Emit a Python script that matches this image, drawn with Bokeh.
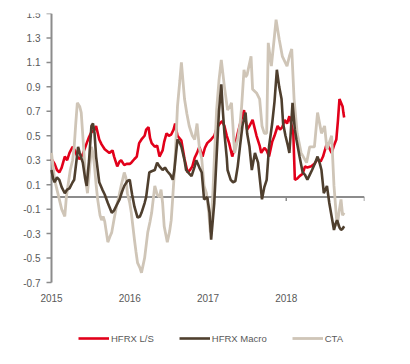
from bokeh.plotting import figure
from bokeh.models import Legend, LegendItem
from bokeh.core.properties import value
from bokeh.embed import file_html
from bokeh.resources import INLINE

# ---- data (decimal years) ----
ls_t = [2015.00, 2015.04, 2015.07, 2015.10, 2015.13, 2015.17, 2015.20, 2015.23, 2015.27, 2015.30,
        2015.33, 2015.36, 2015.40, 2015.45, 2015.48, 2015.51, 2015.55, 2015.57, 2015.61, 2015.64,
        2015.68, 2015.72, 2015.74, 2015.78, 2015.80, 2015.84, 2015.87, 2015.89, 2015.93, 2015.96,
        2016.00, 2016.02, 2016.06, 2016.09, 2016.12, 2016.15, 2016.19, 2016.21, 2016.24, 2016.26,
        2016.28, 2016.32, 2016.35, 2016.38, 2016.42, 2016.44, 2016.47, 2016.50, 2016.53, 2016.56,
        2016.58, 2016.61, 2016.66, 2016.70, 2016.74, 2016.77, 2016.80, 2016.83, 2016.86, 2016.89,
        2016.93, 2016.96, 2016.99, 2017.04, 2017.08, 2017.11, 2017.15, 2017.18, 2017.21, 2017.24,
        2017.27, 2017.31, 2017.34, 2017.38, 2017.42, 2017.46, 2017.50, 2017.53, 2017.57, 2017.62,
        2017.66, 2017.68, 2017.72, 2017.75, 2017.78, 2017.82, 2017.85, 2017.89, 2017.92, 2017.95,
        2017.98, 2018.01, 2018.04, 2018.07, 2018.09, 2018.11, 2018.14, 2018.17, 2018.21, 2018.24,
        2018.27, 2018.32, 2018.36, 2018.40, 2018.44, 2018.47, 2018.52, 2018.55, 2018.58, 2018.61,
        2018.64, 2018.66, 2018.68, 2018.70, 2018.72, 2018.73, 2018.74]
ls_v = [0.31, 0.27, 0.22, 0.20, 0.24, 0.33, 0.30, 0.36, 0.41, 0.38,
        0.33, 0.31, 0.35, 0.44, 0.49, 0.53, 0.55, 0.58, 0.47, 0.43,
        0.39, 0.37, 0.36, 0.38, 0.33, 0.25, 0.29, 0.30, 0.26, 0.27,
        0.27, 0.28, 0.31, 0.33, 0.44, 0.47, 0.50, 0.55, 0.57, 0.48,
        0.44, 0.41, 0.42, 0.33, 0.38, 0.45, 0.52, 0.50, 0.51, 0.55,
        0.60, 0.50, 0.46, 0.31, 0.20, 0.22, 0.25, 0.32, 0.36, 0.41,
        0.33, 0.40, 0.44, 0.47, 0.50, 0.56, 0.60, 0.62, 0.58, 0.50,
        0.44, 0.33, 0.40, 0.52, 0.62, 0.71, 0.55, 0.58, 0.63, 0.50,
        0.42, 0.36, 0.40, 0.38, 0.33, 0.45, 0.50, 0.58, 0.55, 0.57,
        0.63, 0.60, 0.66, 0.58, 0.52, 0.14, 0.15, 0.17, 0.19, 0.25,
        0.24, 0.25, 0.27, 0.31, 0.29, 0.33, 0.44, 0.40, 0.36, 0.42,
        0.47, 0.62, 0.80, 0.77, 0.74, 0.69, 0.65]

macro_t = [2015.00, 2015.02, 2015.04, 2015.07, 2015.10, 2015.13, 2015.17, 2015.20, 2015.23, 2015.27,
           2015.29, 2015.32, 2015.34, 2015.36, 2015.40, 2015.43, 2015.45, 2015.48, 2015.51, 2015.53,
           2015.55, 2015.57, 2015.61, 2015.65, 2015.68, 2015.72, 2015.77, 2015.80, 2015.83, 2015.87,
           2015.90, 2015.93, 2015.97, 2016.00, 2016.03, 2016.06, 2016.10, 2016.13, 2016.15, 2016.19,
           2016.21, 2016.25, 2016.28, 2016.32, 2016.35, 2016.38, 2016.42, 2016.45, 2016.48, 2016.52,
           2016.55, 2016.57, 2016.61, 2016.64, 2016.66, 2016.70, 2016.72, 2016.76, 2016.79, 2016.83,
           2016.85, 2016.89, 2016.92, 2016.95, 2016.99, 2017.02, 2017.04, 2017.06, 2017.08, 2017.11,
           2017.14, 2017.17, 2017.19, 2017.21, 2017.24, 2017.25, 2017.29, 2017.32, 2017.35, 2017.38,
           2017.41, 2017.44, 2017.48, 2017.50, 2017.53, 2017.56, 2017.60, 2017.64, 2017.67, 2017.69,
           2017.72, 2017.75, 2017.78, 2017.82, 2017.85, 2017.88, 2017.91, 2017.94, 2017.96, 2017.99,
           2018.02, 2018.04, 2018.06, 2018.08, 2018.11, 2018.13, 2018.17, 2018.21, 2018.24, 2018.27,
           2018.30, 2018.33, 2018.37, 2018.40, 2018.43, 2018.45, 2018.48, 2018.52, 2018.55, 2018.58,
           2018.61, 2018.63, 2018.65, 2018.68, 2018.70, 2018.72, 2018.74]
macro_v = [0.22, 0.15, 0.12, 0.16, 0.14, 0.08, 0.03, 0.06, 0.07, 0.12,
           0.14, 0.30, 0.41, 0.36, 0.28, 0.15, 0.09, 0.30, 0.58, 0.60,
           0.52, 0.33, 0.12, 0.06, 0.02, -0.05, -0.13, -0.11, -0.07, -0.02,
           0.04, 0.09, 0.13, 0.14, 0.02, -0.08, -0.17, -0.16, -0.13, -0.05,
           0.00, 0.20, 0.21, 0.22, 0.28, 0.25, 0.22, 0.24, 0.21, 0.18,
           0.14, 0.22, 0.47, 0.44, 0.41, 0.30, 0.22, 0.19, 0.17, 0.25,
           0.30, 0.24, 0.20, -0.02, 0.00, -0.13, -0.35, -0.20, -0.05, 0.33,
           0.70, 0.92, 0.70, 0.52, 0.32, 0.22, 0.14, 0.12, 0.13, 0.25,
           0.42, 0.58, 0.69, 0.52, 0.41, 0.22, 0.36, 0.28, 0.10, -0.02,
           0.08, 0.14, 0.41, 0.60, 0.78, 1.04, 0.90, 0.80, 0.60, 0.50,
           0.42, 0.36, 0.55, 0.77, 0.55, 0.47, 0.33, 0.20, 0.18, 0.14,
           0.18, 0.22, 0.28, 0.33, 0.27, 0.22, 0.03, 0.09, -0.05, -0.16,
           -0.27, -0.22, -0.19, -0.25, -0.27, -0.26, -0.24]

cta_t = [2015.00, 2015.02, 2015.04, 2015.07, 2015.10, 2015.13, 2015.17, 2015.19, 2015.21, 2015.24,
         2015.27, 2015.29, 2015.31, 2015.33, 2015.36, 2015.38, 2015.40, 2015.42, 2015.44, 2015.46,
         2015.49, 2015.51, 2015.53, 2015.55, 2015.57, 2015.59, 2015.62, 2015.64, 2015.66, 2015.68,
         2015.72, 2015.75, 2015.77, 2015.80, 2015.83, 2015.86, 2015.89, 2015.93, 2015.95, 2015.97,
         2016.00, 2016.02, 2016.06, 2016.08, 2016.10, 2016.13, 2016.15, 2016.17, 2016.19, 2016.23,
         2016.26, 2016.28, 2016.30, 2016.32, 2016.35, 2016.38, 2016.40, 2016.42, 2016.44, 2016.48,
         2016.51, 2016.53, 2016.55, 2016.57, 2016.59, 2016.61, 2016.64, 2016.66, 2016.68, 2016.70,
         2016.73, 2016.76, 2016.80, 2016.83, 2016.86, 2016.89, 2016.92, 2016.95, 2016.98, 2017.01,
         2017.03, 2017.06, 2017.08, 2017.11, 2017.14, 2017.17, 2017.19, 2017.21, 2017.25, 2017.28,
         2017.30, 2017.34, 2017.38, 2017.41, 2017.43, 2017.46, 2017.48, 2017.50, 2017.55, 2017.57,
         2017.62, 2017.66, 2017.69, 2017.72, 2017.75, 2017.77, 2017.81, 2017.85, 2017.87, 2017.91,
         2017.95, 2018.01, 2018.04, 2018.07, 2018.10, 2018.14, 2018.19, 2018.26, 2018.30, 2018.36,
         2018.40, 2018.45, 2018.49, 2018.52, 2018.58, 2018.61, 2018.65, 2018.68, 2018.70, 2018.72,
         2018.74]
cta_v = [0.36, 0.25, 0.14, 0.06, -0.02, -0.10, -0.16, 0.00, 0.09, 0.22,
         0.30, 0.41, 0.60, 0.77, 0.74, 0.69, 0.50, 0.31, 0.12, 0.03,
         0.25, 0.41, 0.36, 0.25, 0.10, -0.02, -0.15, -0.19, -0.16, -0.20,
         -0.37, -0.32, -0.29, -0.18, -0.08, 0.00, 0.09, 0.20, 0.16, 0.03,
         -0.05, -0.13, -0.35, -0.45, -0.54, -0.58, -0.62, -0.56, -0.50, -0.29,
         -0.20, -0.13, -0.02, 0.09, 0.02, 0.00, 0.06, -0.05, -0.24, -0.37,
         -0.28, -0.19, 0.00, 0.20, 0.45, 0.74, 0.95, 1.10, 0.95, 0.80,
         0.68, 0.58, 0.50, 0.47, 0.60, 0.40, 0.31, 0.09, 0.03, -0.13,
         -0.29, 0.00, 0.30, 0.71, 0.95, 1.12, 1.01, 0.90, 0.71, 0.74,
         0.77, 0.36, 0.47, 0.60, 0.74, 1.04, 0.98, 1.00, 1.15, 0.88,
         0.85, 0.80, 0.58, 0.52, 0.52, 1.26, 1.07, 1.32, 1.45, 1.29,
         1.15, 1.07, 1.15, 1.21, 0.80, 0.52, 0.36, 0.28, 0.41, 0.41,
         0.69, 0.52, 0.58, 0.39, 0.50, 0.09, -0.24, -0.10, -0.02, -0.15,
         -0.13]

series_names = ["HFRX L/S", "HFRX Macro", "CTA"]
year_ticks = [2015, 2016, 2017, 2018]
zero_ticks = [2016, 2017, 2018, 2019]
y_ticks = [-0.7, -0.5, -0.3, -0.1, 0.1, 0.3, 0.5, 0.7, 0.9, 1.1, 1.3, 1.5]
Y_MIN, Y_MAX = -0.7, 1.5
X_MIN, X_MAX = 2015, 2019

RED = "#e2001a"
BROWN = "#4f3f2e"
BEIGE = "#cfc5b7"
GREY = "#8c8c8c"
TXT = "#595959"
FONT = "Liberation Sans"

# layout: the value axis spans 269px and the time axis 313px; the frame is
# extended below and to the left so the tick labels and legend sit inside it
W, H = 400, 362
TOP, BOTTOM, LEFT, RIGHT = 13, 1, 4, 36
AXIS_PX_Y = 269
AXIS_PX_X = 313
AXIS_LEFT_PAD = 47  # pixels between the frame edge and the value axis
frame_h = H - TOP - BOTTOM
y_start = Y_MAX - frame_h * (Y_MAX - Y_MIN) / AXIS_PX_Y
x_start = X_MIN - AXIS_LEFT_PAD * (X_MAX - X_MIN) / AXIS_PX_X
x_per_px = (X_MAX - X_MIN) / AXIS_PX_X
y_per_px = (Y_MAX - Y_MIN) / AXIS_PX_Y

p = figure(width=W, height=H, output_backend="svg", toolbar_location=None,
           x_range=(x_start, X_MAX), y_range=(y_start, Y_MAX),
           min_border_left=LEFT, min_border_right=RIGHT,
           min_border_top=TOP, min_border_bottom=BOTTOM)
p.outline_line_color = None
p.xgrid.visible = False
p.ygrid.visible = False
p.background_fill_color = "white"
p.xaxis.visible = False
p.yaxis.visible = False

# value axis: line (thin quad), outward ticks, labels
p.quad(left=[X_MIN - 1.0 * x_per_px], right=[X_MIN + 1.0 * x_per_px],
       bottom=[Y_MIN], top=[Y_MAX], fill_color=GREY, line_color=None)
p.quad(left=[X_MIN - 5 * x_per_px] * len(y_ticks), right=[X_MIN] * len(y_ticks),
       bottom=[t - 0.75 * y_per_px for t in y_ticks], top=[t + 0.75 * y_per_px for t in y_ticks],
       fill_color=GREY, line_color=None)
p.text(x=[X_MIN] * len(y_ticks), y=y_ticks, text=["%.1f" % t for t in y_ticks],
       text_align="right", text_baseline="middle", x_offset=-11,
       text_font=value(FONT), text_font_size="10px", text_color=TXT)

# year labels under the value axis
p.text(x=year_ticks, y=[Y_MIN] * len(year_ticks), text=[str(t) for t in year_ticks],
       text_align="center", text_baseline="top", y_offset=11,
       text_font=value(FONT), text_font_size="10px", text_color=TXT)

# zero line with small ticks
p.quad(left=[X_MIN], right=[X_MAX], bottom=[-1.0 * y_per_px], top=[1.0 * y_per_px],
       fill_color=GREY, line_color=None)
p.quad(left=[t - 0.75 * x_per_px for t in zero_ticks], right=[t + 0.75 * x_per_px for t in zero_ticks],
       bottom=[-4 * y_per_px] * len(zero_ticks), top=[0] * len(zero_ticks),
       fill_color=GREY, line_color=None)

r_ls = p.line(ls_t, ls_v, line_color=RED, line_width=2.6)
r_cta = p.line(cta_t, cta_v, line_color=BEIGE, line_width=2.8)
r_macro = p.line(macro_t, macro_v, line_color=BROWN, line_width=2.6)

legend = Legend(items=[LegendItem(label=series_names[0], renderers=[r_ls]),
                       LegendItem(label=series_names[1], renderers=[r_macro]),
                       LegendItem(label=series_names[2], renderers=[r_cta])],
                orientation="horizontal", location=(27 + AXIS_LEFT_PAD, 13),
                glyph_width=31, glyph_height=20, label_standoff=2, spacing=25,
                padding=0, margin=0,
                border_line_color=None, background_fill_alpha=0,
                label_text_font=FONT, label_text_font_size="9.5px", label_text_color=TXT)
p.add_layout(legend)

open("out.html", "w").write(file_html(p, INLINE))
